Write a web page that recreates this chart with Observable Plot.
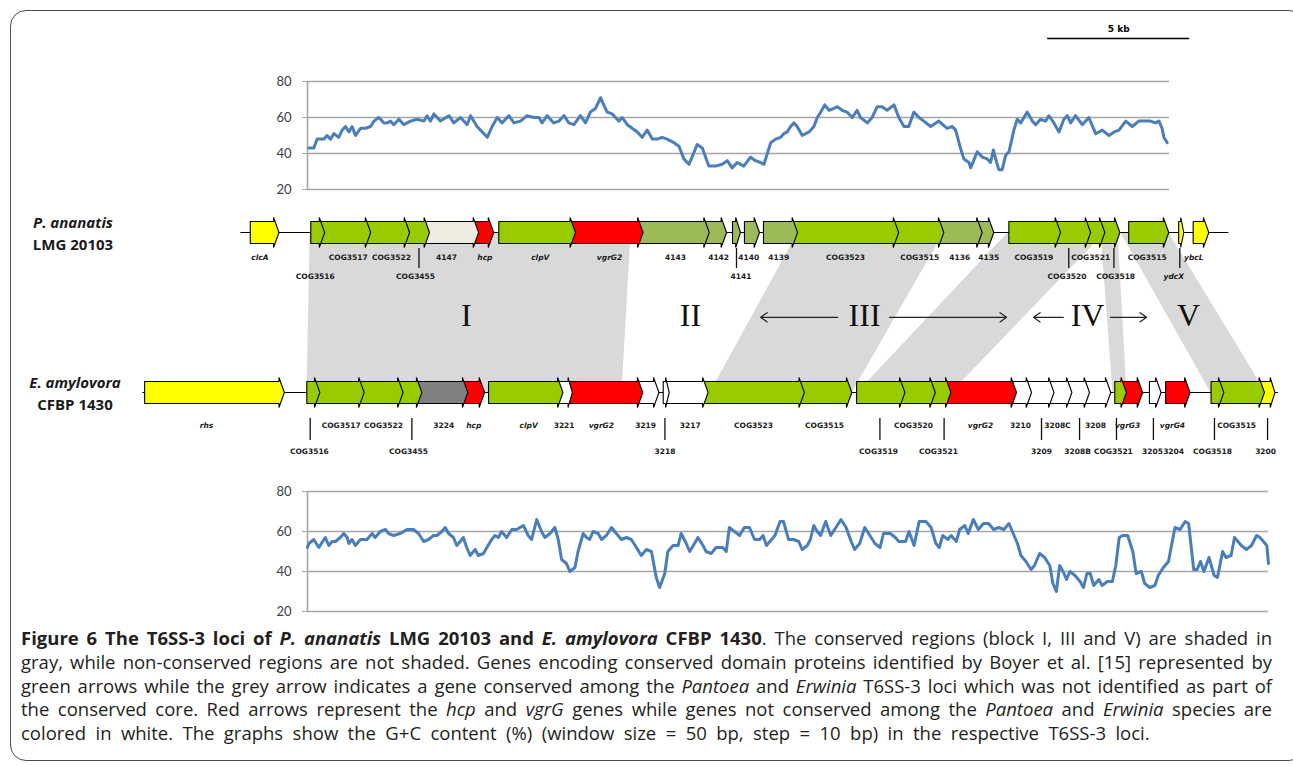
<!DOCTYPE html>
<html><head><meta charset="utf-8">
<script src="https://cdn.jsdelivr.net/npm/d3@7"></script>
<script src="https://cdn.jsdelivr.net/npm/@observablehq/plot@0.6"></script>
<style>
body{margin:0;background:#fff;}
#fig{position:relative;width:1293px;height:766px;overflow:hidden;font-family:"Open Sans",sans-serif;background:#fff;}
#frame{position:absolute;left:10px;top:10px;width:1295px;height:751px;border:1.5px solid #4d4d4d;border-radius:16px;box-sizing:border-box;}
.chart{position:absolute;left:0;}
.sp{position:absolute;font-family:"Open Sans",sans-serif;font-weight:700;font-size:15px;color:#1a1a1a;line-height:22px;text-align:center;width:110px;}
#caption{position:absolute;left:21px;top:626px;width:1251px;font-size:18.5px;line-height:23.8px;color:#231f20;}
#caption div{white-space:nowrap;text-align:justify;text-align-last:justify;}
#caption div.last{text-align-last:left;word-spacing:4.6px;}
</style></head>
<body>
<div id="fig">
  <div id="frame"></div>
  <div id="gcTopChart" class="chart" style="top:20px"></div>
  <div id="mapChart" class="chart" style="top:205px"></div>
  <div id="gcBottomChart" class="chart" style="top:480px"></div>
  <div class="sp" style="left:18px;top:211px"><i>P. ananatis</i><br>LMG 20103</div>
  <div class="sp" style="left:20px;top:371px"><i>E. amylovora</i><br>CFBP 1430</div>
  <div id="caption">
    <div><b>Figure 6 The T6SS-3 loci of <i>P. ananatis</i> LMG 20103 and <i>E. amylovora</i> CFBP 1430</b>. The conserved regions (block I, III and V) are shaded in</div>
    <div>gray, while non-conserved regions are not shaded. Genes encoding conserved domain proteins identified by Boyer et al. [15] represented by</div>
    <div>green arrows while the grey arrow indicates a gene conserved among the <i>Pantoea</i> and <i>Erwinia</i> T6SS-3 loci which was not identified as part of</div>
    <div>the conserved core. Red arrows represent the <i>hcp</i> and <i>vgrG</i> genes while genes not conserved among the <i>Pantoea</i> and <i>Erwinia</i> species are</div>
    <div class="last">colored in white. The graphs show the G+C content (%) (window size = 50 bp, step = 10 bp) in the respective T6SS-3 loci.</div>
  </div>
</div>
<script>
// ---------- DATA ----------
// gene classes: G conserved core (green), O other Pantoea (olive), R hcp/vgrG (red), Y flanking (yellow), W not conserved (white), B Pantoea-specific, D conserved non-core (grey)
const classColors = {G:"#99cc00", O:"#9bbb59", R:"#ff0000", Y:"#ffff00", W:"#ffffff", B:"#eeece1", D:"#808080"};
// [name, start kb, end kb, class] on the shared map axis
const topGenes = [
 ["clcA",3.76,4.77,"Y"],["COG3516",5.89,6.38,"G"],["COG3517",6.38,8.00,"G"],["COG3522",8.00,9.37,"G"],
 ["COG3455",9.37,10.07,"G"],["4147",10.07,11.80,"B"],["hcp",11.80,12.33,"R"],["clpV",12.51,15.21,"G"],
 ["vgrG2",15.21,17.59,"R"],["4143",17.63,19.92,"O"],["4142",19.92,20.53,"O"],["4141",20.74,21.02,"O"],
 ["4140",21.16,21.69,"O"],["4139",21.83,23.03,"O"],["COG3523",23.03,26.59,"G"],["COG3515",26.59,28.18,"G"],
 ["4136",28.24,29.53,"O"],["4135",29.53,29.94,"O"],["COG3519",30.47,32.29,"G"],["COG3520",32.29,33.35,"G"],
 ["COG3521",33.35,33.85,"G"],["COG3518",33.85,34.38,"G"],["COG3515",34.69,36.10,"G"],["ydcX",36.45,36.63,"Y"],
 ["ybcL",36.96,37.51,"Y"]
];
const bottomGenes = [
 ["rhs",0.04,4.96,"Y"],["COG3516",5.75,6.21,"G"],["COG3517",6.27,7.77,"G"],["COG3522",7.81,9.14,"G"],
 ["COG3455",9.17,9.80,"G"],["3224",9.84,11.42,"D"],["hcp",11.48,12.01,"R"],["clpV",12.15,14.77,"G"],
 ["3221",14.85,15.10,"W"],["vgrG2",15.20,17.58,"R"],["3219",17.62,18.15,"W"],["3218",18.30,18.51,"W"],
 ["3217",18.58,19.88,"W"],["COG3523",19.93,23.27,"G"],["COG3515",23.31,24.94,"G"],["COG3519",25.11,26.81,"G"],
 ["COG3520",26.81,27.88,"G"],["COG3521",27.95,28.43,"G"],["vgrG2",28.46,30.74,"R"],["3210",30.78,31.27,"W"],
 ["3209",31.34,32.06,"W"],["3208C",32.13,32.69,"W"],["3208B",32.74,33.31,"W"],["3208",33.35,34.06,"W"],
 ["COG3521",34.20,34.61,"G"],["vgrG3",34.66,35.18,"R"],["3205",35.42,35.83,"W"],["vgrG4",35.99,36.85,"R"],
 ["COG3518",37.59,38.04,"G"],["COG3515",38.08,39.47,"G"],["3200",39.56,39.84,"Y"]
];
const backbones = [[0,3.43,38.22],[1,-0.02,39.96]]; // [track, start kb, end kb]
// label [text, kb, row]
const topLabels = [
 ["clcA",4.10,1],["COG3517",7.21,1],["COG3522",8.73,1],["4147",10.67,1],["hcp",12.02,1],["clpV",13.97,1],
 ["vgrG2",16.41,1],["4143",18.73,1],["4142",20.25,1],["4140",21.31,1],["4139",22.37,1],["COG3523",24.72,1],
 ["COG3515",27.33,1],["4136",28.74,1],["4135",29.76,1],["COG3519",31.35,1],["COG3521",33.35,1],["COG3515",35.34,1],
 ["ybcL",36.98,1],
 ["COG3516",6.05,2],["COG3455",9.58,2],["4141",21.04,2],["COG3520",32.52,2],["COG3518",34.23,2],["ydcX",36.28,2]
];
const bottomLabels = [
 ["rhs",2.22,1],["COG3517",6.96,1],["COG3522",8.45,1],["3224",10.57,1],["hcp",11.63,1],["clpV",13.56,1],
 ["3221",14.81,1],["vgrG2",16.12,1],["3219",17.68,1],["3217",19.25,1],["COG3523",21.48,1],["COG3515",23.98,1],
 ["COG3520",27.11,1],["vgrG2",29.47,1],["3210",30.88,1],["3208C",32.18,1],["3208",33.52,1],["vgrG3",34.65,1],
 ["vgrG4",36.23,1],["COG3515",38.49,1],
 ["COG3516",5.84,2],["COG3455",9.33,2],["3218",18.36,2],["COG3519",25.88,2],["COG3521",27.99,2],["3209",31.62,2],
 ["3208B",32.89,2],["COG3521",34.15,2],["3205",35.53,2],["3204",36.27,2],["COG3518",37.64,2],["3200",39.51,2]
];
const italicNames = ["clcA","hcp","clpV","vgrG2","vgrG3","vgrG4","rhs","ydcX","ybcL"];
const topLeaders = [9.70,20.88,32.58,34.17,36.49];
const bottomLeaders = [5.87,9.45,18.36,25.93,28.19,31.62,32.96,34.26,35.56,37.71,39.58];
// conserved blocks: [name, top start, top end, bottom start, bottom end] (kb)
const blocks = [
 ["I",5.85,17.15,5.74,16.83],
 ["III-a",23.03,28.17,19.93,24.93],
 ["III-b",30.42,33.84,25.11,28.42],
 ["IV",33.70,34.30,34.12,34.61],
 ["V",34.40,36.09,37.57,39.51]
];
const romanLabels = [["I",11.37],["II",19.26],["III",25.39],["IV",33.24],["V",36.80]];
const regionArrows = [[24.44,21.73],[26.27,30.39],[32.39,31.34],[34.05,35.32]]; // [from kb, to kb]
const scaleBar = {start:26.06, length:5, label:"5 kb"};
// G+C content (%) : [position kb, value]
const gcTop = [[0.05,43],[0.22,43],[0.34,48],[0.58,48],[0.69,50],[0.81,48],[0.93,51],[1.10,49],[1.22,53],[1.34,55],[1.46,52],[1.57,55],[1.69,50],[1.87,54],[2.04,54],[2.22,55],[2.34,58],[2.51,60],[2.69,57],[2.81,57],[2.92,58],[3.04,56],[3.22,59],[3.39,56],[3.63,58],[3.86,59],[4.10,58],[4.21,61],[4.33,58],[4.45,62],[4.68,58],[4.98,61],[5.15,57],[5.39,60],[5.62,56],[5.74,61],[5.97,55],[6.15,52],[6.33,49],[6.50,55],[6.68,60],[6.85,57],[7.09,61],[7.27,57],[7.50,58],[7.73,61],[7.97,60],[8.15,60],[8.26,57],[8.44,61],[8.67,57],[8.85,58],[9.03,61],[9.20,57],[9.38,56],[9.61,61],[9.79,57],[9.96,63],[10.14,65],[10.32,71],[10.43,67],[10.55,63],[10.73,62],[10.96,58],[11.08,60],[11.26,56],[11.43,54],[11.61,52],[11.78,49],[11.96,53],[12.14,48],[12.31,48],[12.49,49],[12.66,48],[12.90,46],[13.08,44],[13.25,37],[13.43,34],[13.54,38],[13.72,45],[13.90,43],[14.13,33],[14.37,33],[14.60,34],[14.78,36],[14.95,32],[15.13,35],[15.36,33],[15.60,38],[15.77,36],[15.95,35],[16.07,34],[16.19,40],[16.31,46],[16.48,48],[16.66,49],[16.77,51],[16.89,52],[17.01,55],[17.13,57],[17.24,55],[17.42,50],[17.54,51],[17.66,52],[17.83,55],[17.95,60],[18.07,63],[18.21,67],[18.36,64],[18.53,65],[18.65,66],[18.83,64],[19.00,63],[19.18,60],[19.35,64],[19.47,60],[19.71,57],[19.88,60],[20.06,66],[20.23,66],[20.41,64],[20.65,67],[20.82,60],[21.00,55],[21.17,55],[21.35,63],[21.53,60],[21.70,58],[21.94,55],[22.23,58],[22.52,54],[22.70,55],[22.82,53],[22.99,43],[23.11,37],[23.29,35],[23.35,32],[23.58,41],[23.76,38],[23.93,37],[24.05,35],[24.15,42],[24.23,37],[24.34,31],[24.46,31],[24.58,39],[24.70,41],[24.87,53],[24.99,59],[25.11,57],[25.34,63],[25.52,58],[25.64,56],[25.81,59],[25.99,58],[26.10,61],[26.28,57],[26.46,52],[26.63,59],[26.75,61],[26.87,57],[27.04,61],[27.28,56],[27.51,60],[27.75,51],[27.98,53],[28.22,50],[28.40,52],[28.57,53],[28.81,58],[29.04,55],[29.27,58],[29.51,58],[29.68,58],[29.86,57],[29.98,58],[30.09,54],[30.15,49],[30.27,46]];
const gcBottom = [[0.00,52],[0.05,54],[0.22,56],[0.40,52],[0.58,56],[0.63,57],[0.75,53],[0.87,55],[0.99,55],[1.16,57],[1.28,59],[1.40,57],[1.46,54],[1.57,56],[1.69,53],[1.87,56],[2.10,56],[2.28,59],[2.39,57],[2.57,60],[2.75,61],[2.86,59],[3.04,58],[3.27,59],[3.51,61],[3.74,61],[3.92,59],[4.10,55],[4.27,56],[4.45,58],[4.57,58],[4.74,60],[4.86,62],[4.98,59],[5.15,57],[5.27,53],[5.39,55],[5.50,57],[5.62,52],[5.74,48],[5.92,51],[6.03,48],[6.21,49],[6.33,52],[6.50,56],[6.62,58],[6.74,57],[6.85,60],[7.03,57],[7.21,61],[7.38,61],[7.62,63],[7.79,58],[7.91,56],[8.09,66],[8.26,60],[8.38,57],[8.56,59],[8.73,62],[8.85,56],[8.97,46],[9.14,44],[9.26,40],[9.44,42],[9.55,50],[9.73,59],[9.85,57],[9.96,56],[10.08,60],[10.26,59],[10.38,56],[10.55,58],[10.73,62],[10.90,59],[11.08,56],[11.26,57],[11.43,56],[11.61,52],[11.78,48],[11.96,51],[12.14,50],[12.31,37],[12.43,32],[12.61,39],[12.72,50],[12.90,53],[13.08,53],[13.19,59],[13.37,54],[13.49,50],[13.66,54],[13.78,57],[13.96,53],[14.07,50],[14.25,49],[14.42,52],[14.66,52],[14.78,50],[14.89,62],[15.07,60],[15.25,58],[15.42,62],[15.60,62],[15.78,56],[15.96,56],[16.08,58],[16.20,53],[16.32,55],[16.50,58],[16.68,65],[16.80,65],[16.98,56],[17.16,56],[17.34,55],[17.46,51],[17.64,53],[17.75,56],[17.87,63],[17.99,60],[18.11,58],[18.29,65],[18.47,58],[18.65,62],[18.83,66],[19.01,62],[19.19,55],[19.31,51],[19.49,54],[19.67,62],[19.85,58],[20.03,54],[20.21,52],[20.33,59],[20.57,59],[20.75,57],[20.87,55],[21.11,55],[21.23,60],[21.41,53],[21.59,65],[21.83,65],[22.01,62],[22.18,54],[22.30,52],[22.42,58],[22.60,56],[22.72,58],[22.90,55],[23.02,61],[23.20,63],[23.32,59],[23.50,66],[23.68,61],[23.86,64],[24.04,64],[24.22,61],[24.40,62],[24.58,61],[24.76,64],[24.88,60],[25.06,54],[25.18,48],[25.36,45],[25.54,41],[25.66,43],[25.84,49],[26.02,47],[26.20,43],[26.31,34],[26.43,30],[26.55,43],[26.67,40],[26.79,36],[26.91,40],[27.09,38],[27.27,35],[27.39,32],[27.51,39],[27.63,39],[27.75,33],[27.93,36],[28.05,33],[28.23,35],[28.41,35],[28.53,43],[28.65,57],[28.77,58],[28.95,58],[29.13,50],[29.25,39],[29.43,40],[29.55,34],[29.73,32],[29.91,33],[30.03,38],[30.21,42],[30.39,45],[30.51,54],[30.62,62],[30.80,61],[30.98,65],[31.10,64],[31.28,41],[31.40,41],[31.52,45],[31.64,40],[31.82,47],[32.00,38],[32.12,37],[32.30,50],[32.42,47],[32.60,48],[32.72,57],[32.96,53],[33.14,51],[33.32,53],[33.50,58],[33.62,57],[33.74,55],[33.86,53],[33.92,44]];
const gcTicks = [20,40,60,80];

// ---------- LAYOUT (styles, not data) ----------
const PX_PER_KB = 28.4;
const BODY = 0.06875, BARB = 0.025, HEAD = 0.19; // track units / kb
const gcColor = "#4a7ebb", gridColor = "#a6a6a6";

function gcChart(data, domainMax, opts) {
  const marks = [
    Plot.ruleY(gcTicks, {stroke: gridColor, strokeWidth: 1.6}),
    Plot.axisY(gcTicks, {tickSize: 5, tickPadding: 11, stroke: gridColor, fill: "#404040", fontSize: 13, fontFamily: "Lato", label: null}),
    Plot.ruleX([0], {y1: 20, y2: 80, stroke: gridColor, strokeWidth: 1.6}),
    Plot.line(data, {x: d => d[0], y: d => d[1], stroke: gcColor, strokeWidth: 3, strokeLinejoin: "round"})
  ];
  if (opts.extra) marks.push(...opts.extra);
  return Plot.plot({
    width: 1293, height: opts.height,
    marginLeft: 307, marginRight: opts.marginRight, marginTop: opts.marginTop, marginBottom: opts.marginBottom,
    x: {domain: [0, domainMax], axis: null},
    y: {domain: [20, 80], axis: null},
    style: {background: "transparent", overflow: "visible", fontFamily: "Lato"},
    marks
  });
}

document.getElementById("gcTopChart").append(gcChart(gcTop, 30.35, {
  height: 180, marginTop: 61, marginBottom: 11, marginRight: 124,
  extra: [
    Plot.ruleY([80], {x1: scaleBar.start, x2: scaleBar.start + scaleBar.length, dy: -43, stroke: "#000", strokeWidth: 1.5}),
    Plot.text([scaleBar], {x: d => d.start + d.length / 2, y: 80, dy: -52, text: "label", fontSize: 9, fontWeight: "bold", fontFamily: "DejaVu Sans", fill: "#000"})
  ]
}));
document.getElementById("gcBottomChart").append(gcChart(gcBottom, 33.92, {
  height: 140, marginTop: 11, marginBottom: 9, marginRight: 25
}));

// gene arrows as closed polygons
function genePolys(genes, track) {
  const pts = [];
  const headOf = g => Math.min(HEAD, (g[2] - g[1]) * 0.6);
  for (let i = genes.length - 1; i >= 0; i--) {
    const g = genes[i], [name, s, e, c] = g;
    const h = headOf(g);
    const prev = genes[i - 1];
    const s0 = prev && (s - prev[2]) < 0.1 ? prev[2] - headOf(prev) : s;
    const t = track - BODY, b = track + BODY, id = track + "-" + i, fill = classColors[c];
    [[s0, t], [e - h, t], [e - h, t - BARB], [e, track], [e - h, b + BARB], [e - h, b], [s0, b]]
      .forEach(([x, y]) => pts.push({x, y, id, fill}));
  }
  return pts;
}
const genePts = [...genePolys(topGenes, 0), ...genePolys(bottomGenes, 1)];
const blockPts = blocks.flatMap(([name, ts, te, bs, be]) =>
  [[ts, 0], [te, 0], [be, 1], [bs, 1]].map(([x, y]) => ({x, y, id: name})));
const rowOffset = {0: {1: 0.156, 2: 0.275}, 1: {1: 0.206, 2: 0.369}};
const labelData = [
  ...topLabels.map(([text, x, row]) => ({text, x, y: 0 + rowOffset[0][row]})),
  ...bottomLabels.map(([text, x, row]) => ({text, x, y: 1 + rowOffset[1][row]}))
];
const leaderData = [
  ...topLeaders.map(x => ({x, y1: 0.10, y2: 0.225})),
  ...bottomLeaders.map(x => ({x, y1: 1.1625, y2: 1.30}))
];
const ROMAN_Y = 0.52;
const labelStyle = {x: "x", y: "y", text: "text", fontSize: 7.5, fontWeight: "bold", fontFamily: "DejaVu Sans", fill: "#1a1a1a", lineAnchor: "middle"};

document.getElementById("mapChart").append(Plot.plot({
  width: 1293, height: 265, margin: 0,
  x: {domain: [-143 / PX_PER_KB, 1150 / PX_PER_KB], axis: null},
  y: {domain: [-0.16875, 1.4875], range: [0, 265], axis: null},
  color: {type: "identity"},
  style: {background: "transparent", overflow: "visible"},
  marks: [
    Plot.line(blockPts, {x: "x", y: "y", z: "id", fill: "#d9d9d9", stroke: "none", curve: "linear-closed"}),
    Plot.ruleY(backbones, {y: d => d[0], x1: d => d[1], x2: d => d[2], stroke: "#000", strokeWidth: 1}),
    Plot.line(genePts, {x: "x", y: "y", z: "id", fill: "fill", stroke: "#000", strokeWidth: 1.1, strokeLinejoin: "miter", curve: "linear-closed"}),
    Plot.ruleX(leaderData, {x: "x", y1: "y1", y2: "y2", stroke: "#111", strokeWidth: 1.3}),
    Plot.text(labelData.filter(d => !italicNames.includes(d.text)), labelStyle),
    Plot.text(labelData.filter(d => italicNames.includes(d.text)), {...labelStyle, fontStyle: "italic"}),
    Plot.arrow(regionArrows, {x1: d => d[0], x2: d => d[1], y1: ROMAN_Y + 0.01, y2: ROMAN_Y + 0.01, stroke: "#222", strokeWidth: 1.2, headLength: 10, headAngle: 70}),
    Plot.text(romanLabels, {x: d => d[1], y: ROMAN_Y, text: d => d[0], fontSize: 32, fontFamily: "Liberation Serif", fill: "#111", lineAnchor: "middle"})
  ]
}));
</script>
</body></html>
